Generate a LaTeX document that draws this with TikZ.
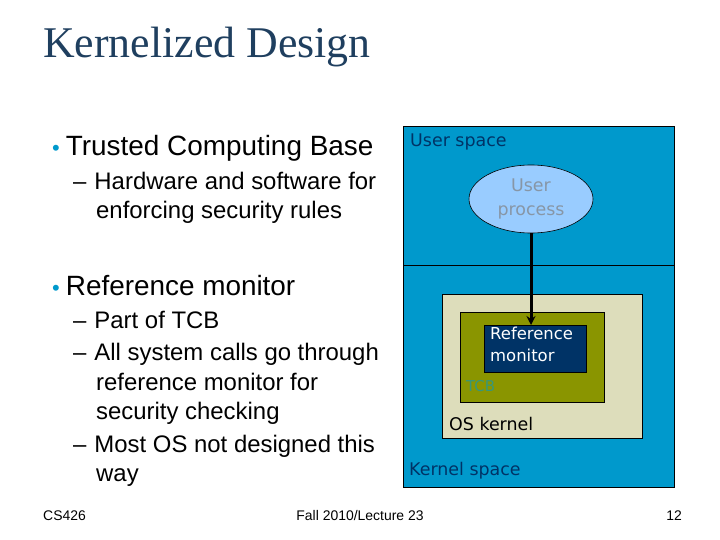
\documentclass[tikz,border=0pt]{standalone}
\usepackage{fontspec}
\setmainfont{Liberation Sans}
\newfontfamily\titlefont{Liberation Serif}
\newfontfamily\boxfont{DejaVu Sans}
\usetikzlibrary{positioning,shapes.geometric,arrows.meta}
\definecolor{spaceblue}{HTML}{0099CC}
\definecolor{kernelcream}{HTML}{DDDDBB}
\definecolor{tcbolive}{HTML}{8A9500}
\definecolor{refnavy}{HTML}{003366}
\definecolor{procblue}{HTML}{99CCFF}
\definecolor{titleblue}{HTML}{1F3F5F}
\tikzset{
  region/.style={draw=black, line width=0.6pt, anchor=north west, inner sep=0pt},
  lbl/.style={font=\boxfont\fontsize{17.5}{20}\selectfont, anchor=west, inner sep=0pt, align=left},
  bul/.style={anchor=west, inner sep=0pt, align=left, font=\fontsize{28}{32}\selectfont},
  sub/.style={anchor=north west, inner sep=0pt, align=left, font=\fontsize{24}{29.5}\selectfont}
}
\begin{document}
\begin{tikzpicture}[x=1bp,y=-1bp]
  \useasboundingbox (0,0) rectangle (720,540);
  \node[anchor=west, inner sep=0pt, text=titleblue, font=\titlefont\fontsize{44}{48}\selectfont] (title) at (43,47) {Kernelized Design};

  % left text
  \node[bul] (tcb) at (52,148) {{\fontsize{22}{22}\selectfont\textcolor{spaceblue}{\textbullet}}\hspace{6bp}Trusted Computing Base};
  \node[sub] (tcbsub) at (73,172) {–\hspace{8bp}Hardware and software for\\\hspace{23bp}enforcing security rules};
  \node[bul] (rm) at (52,286) {{\fontsize{22}{22}\selectfont\textcolor{spaceblue}{\textbullet}}\hspace{6bp}Reference monitor};
  \node[sub] (rmsub) at (73,311) {–\hspace{8bp}Part of TCB\\[3bp]–\hspace{8bp}All system calls go through\\\hspace{23bp}reference monitor for\\\hspace{23bp}security checking\\[3bp]–\hspace{8bp}Most OS not designed this\\\hspace{23bp}way};

  % right diagram
  \node[region, fill=spaceblue, minimum width=271bp, minimum height=139bp] (user) at (403,126) {};
  \node[region, fill=spaceblue, minimum width=271bp, minimum height=222bp] (kernel) at (403,265) {};
  \node[region, fill=kernelcream, minimum width=200bp, minimum height=144bp] (os) at (442,294) {};
  \node[region, fill=tcbolive, minimum width=144bp, minimum height=90bp] (tcbbox) at (460,312) {};
  \node[region, fill=refnavy, minimum width=102bp, minimum height=47bp] (refmon) at (484,325) {};
  \node[ellipse, draw=black, line width=0.6pt, fill=procblue, minimum width=124bp, minimum height=68bp, font=\boxfont\fontsize{17.5}{24}\selectfont, text=gray!70!procblue, align=center] (proc) at (531,199) {User\\process};

  \node[lbl, text=refnavy] (userlbl) at (410,142) {User space};
  \node[lbl, text=refnavy] (kernlbl) at (409,471) {Kernel space};
  \node[lbl, text=black] (oslbl) at (449,424) {OS kernel};
  \node[lbl, text=spaceblue!60!tcbolive, font=\boxfont\fontsize{15}{18}\selectfont] (tcblbl) at (466,386) {TCB};
  \node[lbl, text=white, anchor=north west, font=\boxfont\fontsize{16.5}{22}\selectfont] (reflbl) at (490,327) {Reference\\monitor};

  \draw[line width=3pt, -{Stealth[length=9bp,width=9bp]}] (proc.south) -- (refmon.north -| proc.south);

  % footer
  \node[anchor=west, inner sep=0pt, font=\fontsize{14}{15}\selectfont] (course) at (43,516) {CS426};
  \node[anchor=center, inner sep=0pt, font=\fontsize{14}{15}\selectfont] (lect) at (360,516) {Fall 2010/Lecture 23};
  \node[anchor=east, inner sep=0pt, font=\fontsize{14}{15}\selectfont] (page) at (682,516) {12};
\end{tikzpicture}
\end{document}
